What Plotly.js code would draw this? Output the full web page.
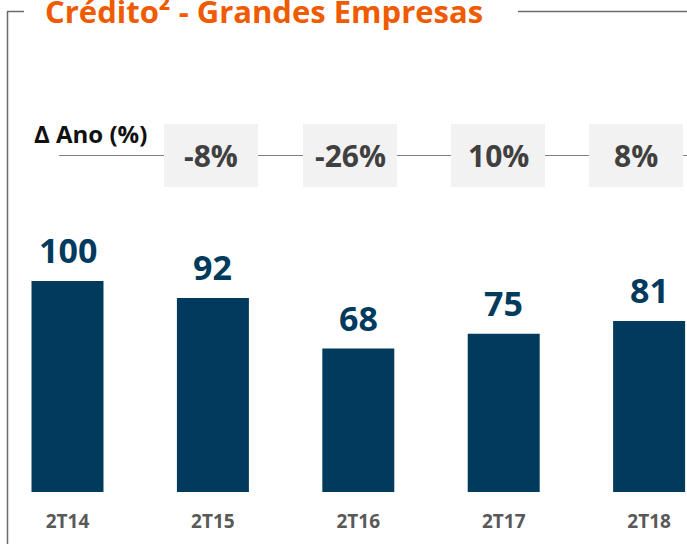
<!DOCTYPE html>
<html>
<head>
<meta charset="utf-8">
<script src="https://cdn.plot.ly/plotly-3.0.1.min.js"></script>
<style>html,body{margin:0;padding:0;background:#fff;}#chart{width:687px;height:544px;}</style>
</head>
<body>
<div id="chart"></div>
<script>
// ---- data ----
var categories = ["2T14", "2T15", "2T16", "2T17", "2T18"];
var values = [100, 92, 68, 75, 81];
var deltaLabels = ["-8%", "-26%", "10%", "8%"];
var titleText = "Crédito² - Grandes Empresas";
var deltaHeader = "Δ Ano (%)";

// ---- layout helpers (pixel -> paper) ----
var W = 687, H = 544, MB = 52, PH = H - MB;
function px(p) { return p / W; }
function py(p) { return (PH - p) / PH; }
var boxCentersPx = [211, 350, 498, 636];
var boxW = 94, boxTop = 124, boxBottom = 187;

var FONT = "Open Sans, Noto Sans, sans-serif";
var shapes = [];
var annotations = [];

// frame lines
var frameColor = "#6b6b6b";
shapes.push({type:"line", xref:"paper", yref:"paper", x0:px(7.5), x1:px(7.5), y0:py(11.5), y1:py(550), line:{color:frameColor, width:1.5}});
shapes.push({type:"line", xref:"paper", yref:"paper", x0:px(7), x1:px(24), y0:py(11.5), y1:py(11.5), line:{color:frameColor, width:1.5}});
shapes.push({type:"line", xref:"paper", yref:"paper", x0:px(518), x1:px(690), y0:py(11.5), y1:py(11.5), line:{color:frameColor, width:1.5}});

// delta connecting line
shapes.push({type:"line", xref:"paper", yref:"paper", x0:px(59), x1:px(690), y0:py(155.5), y1:py(155.5), line:{color:"#808080", width:1.2}, layer:"below"});

// delta boxes + labels
deltaLabels.forEach(function (d, i) {
  var c = boxCentersPx[i];
  shapes.push({type:"rect", xref:"paper", yref:"paper", x0:px(c - boxW/2), x1:px(c + boxW/2), y0:py(boxBottom), y1:py(boxTop), fillcolor:"#f2f2f2", line:{width:0}, layer:"above"});
  annotations.push({xref:"paper", yref:"paper", x:px(c), y:py((boxTop+boxBottom)/2 - 0.5), text:"<b>"+d+"</b>", showarrow:false, xanchor:"center", yanchor:"middle", font:{family:FONT, size:30, color:"#404040"}});
});

// header label
annotations.push({xref:"paper", yref:"paper", x:px(32), y:py(133), text:"<b>"+deltaHeader+"</b>", showarrow:false, xanchor:"left", yanchor:"middle", font:{family:FONT, size:24, color:"#111111"}});

// title
annotations.push({xref:"paper", yref:"paper", x:px(43), y:py(11.5), text:"<b>"+titleText+"</b>", showarrow:false, xanchor:"left", yanchor:"middle", font:{family:FONT, size:31, color:"#f05a00"}});

// bar value labels
categories.forEach(function (c, i) {
  annotations.push({xref:"x", yref:"y", x:c, y:values[i], text:"<b>"+values[i]+"</b>", showarrow:false, xanchor:"center", yanchor:"bottom", yshift:6, font:{family:FONT, size:34, color:"#003a5d"}});
});

var trace = {
  type:"bar", x:categories, y:values, width:0.495,
  marker:{color:"#003a5d", line:{width:0}},
  hoverinfo:"skip"
};

var spacing = 145.4, firstCenter = 67.5;
var layout = {
  width:W, height:H,
  margin:{l:0, r:0, t:0, b:MB, pad:0},
  paper_bgcolor:"#ffffff", plot_bgcolor:"#ffffff",
  showlegend:false,
  xaxis:{type:"category", range:[-firstCenter/spacing, (W-firstCenter)/spacing], showgrid:false, zeroline:false, showline:false, ticks:"", ticklabelstandoff:16,
         tickfont:{family:FONT, size:19, color:"#595959", weight:"bold"}},
  yaxis:{range:[0, PH/2.11], visible:false, showgrid:false, zeroline:false},
  shapes:shapes,
  annotations:annotations
};

Plotly.newPlot("chart", [trace], layout, {staticPlot:true, displayModeBar:false});
</script>
</body>
</html>
